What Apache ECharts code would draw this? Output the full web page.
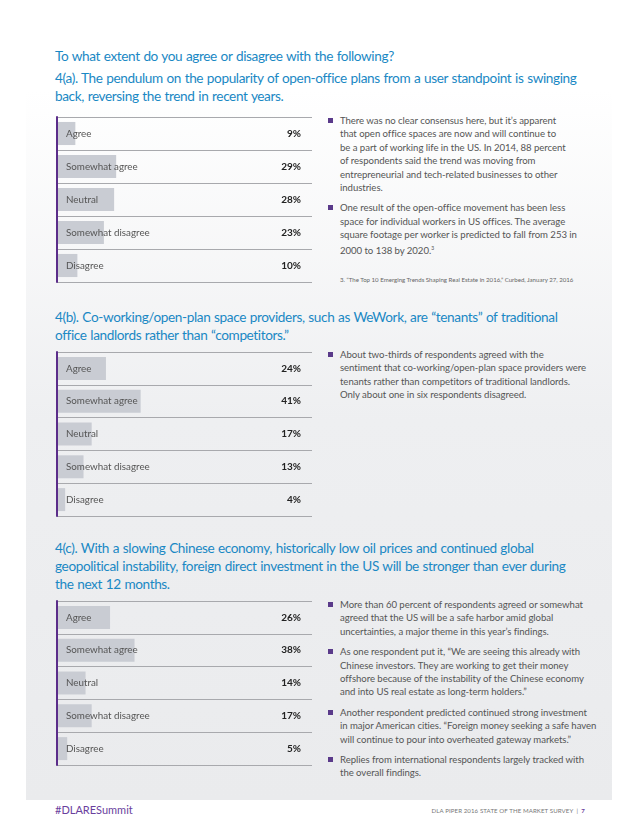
<!DOCTYPE html>
<html>
<head>
<meta charset="utf-8">
<script src="https://cdn.jsdelivr.net/npm/echarts@6/dist/echarts.min.js"></script>
<style>
  html, body { margin:0; padding:0; background:#fff; }
  #page { position:relative; width:640px; height:828px; overflow:hidden; font-family: Lato, "Open Sans", sans-serif; }
  #panel { position:absolute; left:26px; top:0; width:586px; height:800px;
           background:linear-gradient(to bottom, #ffffff 0px, #ffffff 90px, #eeeff1 420px, #eaebed 800px); }
  .h { position:absolute; left:55px; color:#1a88c4; font-size:13.6px; letter-spacing:-0.38px; word-spacing:0.6px; line-height:18px; white-space:nowrap; }
  .chart { position:absolute; left:50px; width:270px; }
  .col { position:absolute; left:328px; width:280px; color:#555; font-size:9.6px; letter-spacing:-0.05px; line-height:13.4px; }
  .b { position:relative; padding-left:12px; margin-bottom:7px; white-space:nowrap; }
  .b::before { content:""; position:absolute; left:0; top:4px; width:5px; height:5px; background:#5a3a8a; }
  .fn { position:absolute; left:340px; font-size:6.1px; color:#666; white-space:nowrap; }
  .foot1 { position:absolute; left:55px; top:803px; font-size:11px; color:#6a3f9e; }
  .foot2 { position:absolute; right:55px; top:807px; font-size:6.1px; color:#777; letter-spacing:0.1px; }
</style>
</head>
<body>
<div id="page">
  <div id="panel"></div>

  <div class="h" style="top:47px;">To what extent do you agree or disagree with the following?</div>
  <div class="h" style="top:69px;">4(a). The pendulum on the popularity of open-office plans from a user standpoint is swinging<br>back, reversing the trend in recent years.</div>

  <div class="chart" id="chartA" style="top:110px;height:180px;"></div>
  <div class="col" style="top:114px;">
    <div class="b">There was no clear consensus here, but it’s apparent<br>that open office spaces are now and will continue to<br>be a part of working life in the US. In 2014, 88 percent<br>of respondents said the trend was moving from<br>entrepreneurial and tech-related businesses to other<br>industries.</div>
    <div class="b">One result of the open-office movement has been less<br>space for individual workers in US offices. The average<br>square footage per worker is predicted to fall from 253 in<br>2000 to 138 by 2020.<sup style="font-size:5px;">3</sup></div>
  </div>
  <div class="fn" style="top:276px;">3. “The Top 10 Emerging Trends Shaping Real Estate in 2016,” Curbed, January 27, 2016</div>

  <div class="h" style="top:308px;">4(b). Co-working/open-plan space providers, such as WeWork, are “tenants” of traditional<br>office landlords rather than “competitors.”</div>

  <div class="chart" id="chartB" style="top:345px;height:180px;"></div>
  <div class="col" style="top:348px;">
    <div class="b">About two-thirds of respondents agreed with the<br>sentiment that co-working/open-plan space providers were<br>tenants rather than competitors of traditional landlords.<br>Only about one in six respondents disagreed.</div>
  </div>

  <div class="h" style="top:539px;">4(c). With a slowing Chinese economy, historically low oil prices and continued global<br>geopolitical instability, foreign direct investment in the US will be stronger than ever during<br>the next 12 months.</div>

  <div class="chart" id="chartC" style="top:594px;height:180px;"></div>
  <div class="col" style="top:598px;">
    <div class="b">More than 60 percent of respondents agreed or somewhat<br>agreed that the US will be a safe harbor amid global<br>uncertainties, a major theme in this year’s findings.</div>
    <div class="b">As one respondent put it, “We are seeing this already with<br>Chinese investors. They are working to get their money<br>offshore because of the instability of the Chinese economy<br>and into US real estate as long-term holders.”</div>
    <div class="b">Another respondent predicted continued strong investment<br>in major American cities. “Foreign money seeking a safe haven<br>will continue to pour into overheated gateway markets.”</div>
    <div class="b">Replies from international respondents largely tracked with<br>the overall findings.</div>
  </div>

  <div class="foot1">#DLARESummit</div>
  <div class="foot2">DLA PIPER 2016 STATE OF THE MARKET SURVEY &nbsp;|&nbsp; <span style="color:#6a3f9e;font-weight:bold;">7</span></div>
</div>

<script>
const categories = ['Agree', 'Somewhat agree', 'Neutral', 'Somewhat disagree', 'Disagree'];
const valuesA = [9, 29, 28, 23, 10];
const valuesB = [24, 41, 17, 13, 4];
const valuesC = [26, 38, 14, 17, 5];

function makeOption(values, gridTop, gridHeight) {
  return {
    animation: false,
    grid: { left: 7, right: 8, top: gridTop, height: gridHeight },
    xAxis: { type: 'value', min: 0, max: 125, show: false },
    yAxis: [
      {
        type: 'category', data: categories, inverse: true, z: 10,
        axisLine: { show: true, lineStyle: { color: '#5b2d8a', width: 2 } },
        axisTick: { show: false },
        axisLabel: { inside: true, margin: 9, color: '#555', fontSize: 9.8, fontFamily: 'Lato' },
        splitLine: { show: true, lineStyle: { color: '#a8a9ad', width: 1 } }
      },
      {
        type: 'category', data: categories, inverse: true, position: 'right', z: 10,
        axisLine: { show: false }, axisTick: { show: false }, splitLine: { show: false },
        axisLabel: { inside: true, margin: 11, color: '#222', fontSize: 10, fontWeight: 'bold', fontFamily: 'Lato',
                     formatter: (v, i) => values[i] + '%' }
      }
    ],
    series: [{
      type: 'bar', data: values, yAxisIndex: 0, barWidth: '70%',
      itemStyle: { color: '#c9ccd3' }, silent: true
    }]
  };
}

echarts.init(document.getElementById('chartA')).setOption(makeOption(valuesA, 7, 165));
echarts.init(document.getElementById('chartB')).setOption(makeOption(valuesB, 7, 164));
echarts.init(document.getElementById('chartC')).setOption(makeOption(valuesC, 7, 164));
</script>
</body>
</html>
